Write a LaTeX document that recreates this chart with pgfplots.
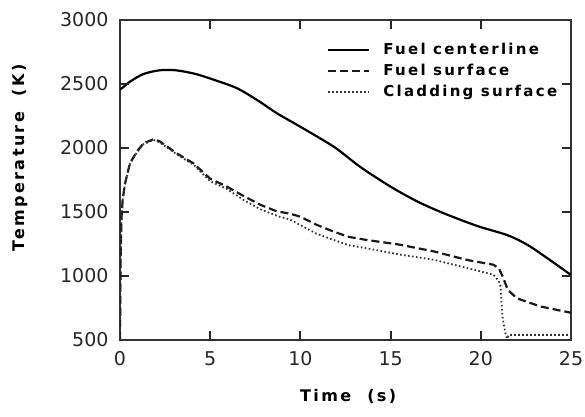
\documentclass[border=0pt]{standalone}
\usepackage{fontspec}
\setmainfont{DejaVu Sans}
\newfontfamily\lblfont[LetterSpace=15]{DejaVu Sans Bold}
\usepackage{pgfplots}
\pgfplotsset{compat=1.18}
\pgfplotstableread{
t T
0 2460
0.1 2466
0.55 2518
1.3 2578
2.2 2607
3.1 2607
4.2 2578
5.35 2526
6.5 2466
7.6 2375
8.7 2271
9.8 2182
11.85 2010
13.3 1854
15.0 1698
16.5 1581
17.95 1490
19.8 1391
21.5 1318
22.6 1242
23.7 1138
25 1008
}\tabcenter
\pgfplotstableread{
t T
0 500
0.03 1100
0.08 1450
0.15 1600
0.28 1724
0.55 1880
0.93 1971
1.3 2036
1.85 2068
2.2 2052
3.15 1958
4.07 1880
5.0 1760
5.9 1700
6.85 1625
7.8 1555
8.7 1505
9.4 1488
10.0 1463
10.9 1400
11.85 1346
12.7 1305
13.7 1281
15.5 1245
17.4 1192
19.25 1125
20.7 1088
21.0 1060
21.2 1000
21.5 891
22.0 826
23.3 762
25 713
}\tabfuel
\pgfplotstableread{
t T
0 500
0.03 1100
0.08 1450
0.15 1600
0.28 1720
0.55 1875
0.93 1965
1.3 2030
1.85 2063
2.2 2045
3.15 1950
4.07 1870
5.0 1740
5.9 1682
6.85 1594
7.8 1520
8.8 1465
9.4 1442
10.0 1398
10.9 1330
11.85 1281
12.7 1240
13.7 1216
15.5 1168
17.4 1127
19.25 1062
20.7 1010
21.0 960
21.1 917
21.2 682
21.35 560
21.45 510
21.55 540
25 540
}\tabclad
\begin{document}
\begin{tikzpicture}
\begin{axis}[
  name=ax,
  scale only axis,
  width=451pt, height=320pt,
  xmin=0, xmax=25, ymin=500, ymax=3000,
  xtick={0,5,10,15,20,25},
  ytick={500,1000,1500,2000,2500,3000},
  tick align=inside,
  major tick length=9pt,
  major tick style={line width=2pt, draw=black!85},
  axis line style={line width=1.3pt, black!80},
  /pgf/number format/assume math mode=true,
  /pgf/number format/1000 sep={},
  tick label style={font=\fontsize{19}{21}\selectfont, text=black!85},
  xticklabel style={yshift=-8pt},
  yticklabel style={xshift=-8pt},
  xlabel={\lblfont Time\ \ (s)},
  ylabel={\lblfont Temperature\ \ (K)},
  label style={font=\fontsize{16}{18}\selectfont},
  xlabel style={at={(axis description cs:0.506,-0.178)}, anchor=center},
  ylabel style={at={(axis description cs:-0.222,0.57)}, anchor=center},
  legend style={draw=none, fill=none, at={(axis description cs:0.459,0.934)}, anchor=north west,
    inner sep=0pt, row sep=3pt, column sep=12pt,
    font=\lblfont\fontsize{15}{17}\selectfont,
    nodes={text height=12pt, text depth=4pt, inner sep=1pt}},
  legend cell align=left,
  legend image code/.code={\draw[#1] (0pt,0pt) -- (41pt,0pt);},
]
\addplot[black, line width=2.2pt, smooth] table[x=t,y=T] {\tabcenter};
\addlegendentry{Fuel centerline}
\addplot[black!90, line width=2.2pt, dash pattern=on 8pt off 4pt] table[x=t,y=T] {\tabfuel};
\addlegendentry{Fuel surface}
\addplot[black!80, line width=1.8pt, dash pattern=on 1.6pt off 2.4pt] table[x=t,y=T] {\tabclad};
\addlegendentry{Cladding surface}
\pgfplotsinvokeforeach{5,10,15,20}{
  \draw[line width=1.6pt, black!85] (axis cs:#1,500) -- ++(0pt,9pt);
  \draw[line width=1.6pt, black!85] (axis cs:#1,3000) -- ++(0pt,-9pt);
}
\pgfplotsinvokeforeach{1000,1500,2000,2500}{
  \draw[line width=1.6pt, black!85] (axis cs:0,#1) -- ++(9pt,0pt);
  \draw[line width=1.6pt, black!85] (axis cs:25,#1) -- ++(-9pt,0pt);
}
\end{axis}
\pgfresetboundingbox
\path[use as bounding box] (ax.south west) ++(-120pt,-76pt) rectangle ++(585pt,416pt);
\end{tikzpicture}
\end{document}
